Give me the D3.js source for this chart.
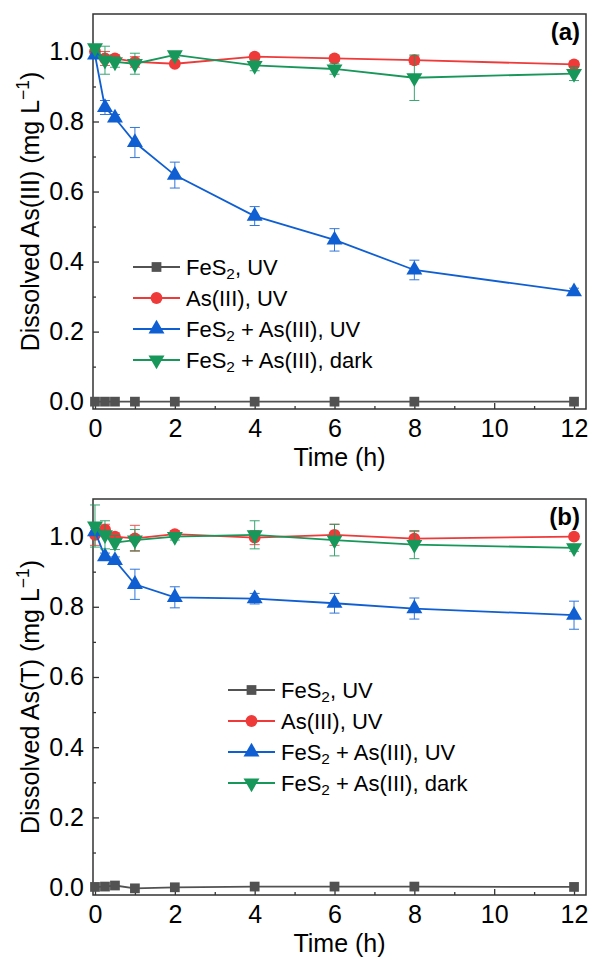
<!DOCTYPE html>
<html>
<head>
<meta charset="utf-8">
<script src="https://cdn.jsdelivr.net/npm/d3@7"></script>
<style>
body { margin: 0; background: #fff; }
text { font-family: "Liberation Sans", Arial, sans-serif; }
</style>
</head>
<body>
<div id="chart"></div>
<script>
// sampling times (h)
var times = [0, 0.25, 0.5, 1, 2, 4, 6, 8, 12];
var xTicks = [0, 2, 4, 6, 8, 10, 12];
var yTicks = [0, 0.2, 0.4, 0.6, 0.8, 1.0];

// panel (a) dissolved As(III)
var aFeS2 = [0, 0, 0, 0, 0, 0, 0, 0, 0];
var aFeS2Err = [0, 0, 0, 0, 0, 0, 0, 0, 0];
var aAs3 = [1.0, 0.98, 0.98, 0.97, 0.965, 0.985, 0.98, 0.975, 0.963];
var aAs3Err = [0.01, 0.02, 0.01, 0.015, 0.008, 0.008, 0.008, 0.012, 0.008];
var aMixUV = [0.99, 0.84, 0.81, 0.74, 0.647, 0.53, 0.462, 0.376, 0.314];
var aMixUVErr = [0.01, 0.02, 0.01, 0.043, 0.037, 0.027, 0.032, 0.028, 0.01];
var aMixDark = [1.01, 0.975, 0.97, 0.965, 0.99, 0.96, 0.95, 0.925, 0.937];
var aMixDarkErr = [0.01, 0.04, 0.015, 0.03, 0.008, 0.015, 0.015, 0.065, 0.02];

// panel (b) dissolved As(T)
var bFeS2 = [0.002, 0.003, 0.006, -0.002, 0.001, 0.003, 0.003, 0.003, 0.002];
var bFeS2Err = [0, 0, 0, 0, 0, 0, 0, 0, 0];
var bAs3 = [1.005, 1.02, 1.0, 0.995, 1.007, 0.997, 1.005, 0.994, 1.0];
var bAs3Err = [0.03, 0.015, 0.01, 0.037, 0.01, 0.02, 0.03, 0.02, 0.008];
var bMixUV = [1.014, 0.943, 0.932, 0.864, 0.827, 0.823, 0.81, 0.795, 0.776];
var bMixUVErr = [0.01, 0.01, 0.01, 0.043, 0.03, 0.015, 0.028, 0.03, 0.04];
var bMixDark = [1.03, 1.005, 0.983, 0.99, 1.0, 1.005, 0.99, 0.977, 0.968];
var bMixDarkErr = [0.06, 0.04, 0.02, 0.03, 0.01, 0.04, 0.045, 0.04, 0.01];

var seriesNames = ["FeS|2|, UV", "As(III), UV", "FeS|2| + As(III), UV", "FeS|2| + As(III), dark"];
var colors = ["#525252", "#ef3a3a", "#0f5fd3", "#17975a"];
var symbols = [d3.symbolSquare, d3.symbolCircle, d3.symbolTriangle, d3.symbolTriangle];

var W = 590, H = 958;
var svg = d3.select("#chart").append("svg")
    .attr("width", W)
    .attr("height", H);

function subText(sel, str) {
    // "FeS|2|, UV" -> FeS with subscript 2
    var parts = str.split("|");
    parts.forEach(function(p, i) {
        var t = sel.append("tspan").text(p);
        if (i % 2 === 1) {
            t.attr("baseline-shift", "-25%").style("font-size", "70%");
        }
    });
}

function drawPanel(params) {
    var left = 93, right = 586;
    var top = params.top, bottom = params.bottom;

    var x = d3.scaleLinear().domain([-0.05, 12.3]).range([left, right]);
    var y = d3.scaleLinear().domain([-0.021, 1.107]).range([bottom, top]);

    var g = svg.append("g");

    // axes with inward ticks
    var xAxis = d3.axisBottom(x).tickValues(xTicks).tickSize(-6).tickPadding(10)
        .tickFormat(d3.format("d"));
    var xMinor = d3.axisBottom(x).tickValues(d3.range(1, 12, 2)).tickSize(-3).tickFormat("");
    var yAxis = d3.axisLeft(y).tickValues(yTicks).tickSize(-6).tickPadding(9)
        .tickFormat(d3.format(".1f"));
    var yMinor = d3.axisLeft(y).tickValues([0.1, 0.3, 0.5, 0.7, 0.9]).tickSize(-3).tickFormat("");

    [xAxis, xMinor].forEach(function(ax) {
        g.append("g").attr("transform", "translate(0," + bottom + ")").call(ax);
    });
    [yAxis, yMinor].forEach(function(ax) {
        g.append("g").attr("transform", "translate(" + left + ",0)").call(ax);
    });
    g.selectAll(".domain").remove();
    g.selectAll(".tick line").attr("stroke", "#333").attr("stroke-width", 1.3);
    g.selectAll(".tick text").style("font-size", "25px").attr("fill", "#000");

    g.append("rect")
        .attr("x", left).attr("y", top)
        .attr("width", right - left).attr("height", bottom - top)
        .attr("fill", "none").attr("stroke", "#333").attr("stroke-width", 1.5);

    // series
    var line = d3.line()
        .x(function(d) { return x(d.t); })
        .y(function(d) { return y(d.v); });

    params.series.forEach(function(s, k) {
        var data = times.map(function(t, i) { return {t: t, v: s.v[i], e: s.e[i]}; });
        var sg = g.append("g");
        var eb = sg.selectAll(".err").data(data.filter(function(d) { return d.e > 0; }))
            .enter().append("g").attr("stroke", colors[k]).attr("stroke-width", 1).attr("opacity", 0.85);
        eb.append("line")
            .attr("x1", function(d) { return x(d.t); }).attr("x2", function(d) { return x(d.t); })
            .attr("y1", function(d) { return y(d.v - d.e); }).attr("y2", function(d) { return y(d.v + d.e); });
        eb.append("line")
            .attr("x1", function(d) { return x(d.t) - 5; }).attr("x2", function(d) { return x(d.t) + 5; })
            .attr("y1", function(d) { return y(d.v + d.e); }).attr("y2", function(d) { return y(d.v + d.e); });
        eb.append("line")
            .attr("x1", function(d) { return x(d.t) - 5; }).attr("x2", function(d) { return x(d.t) + 5; })
            .attr("y1", function(d) { return y(d.v - d.e); }).attr("y2", function(d) { return y(d.v - d.e); });

        sg.append("path").datum(data)
            .attr("d", line).attr("fill", "none")
            .attr("stroke", colors[k]).attr("stroke-width", 1.8);

        var sym = d3.symbol().type(symbols[k]).size(k === 0 ? 95 : 110);
        sg.selectAll(".pt").data(data).enter().append("path")
            .attr("d", sym)
            .attr("fill", colors[k])
            .attr("transform", function(d) {
                return "translate(" + x(d.t) + "," + y(d.v) + ")" + (k === 3 ? " rotate(180)" : "");
            });
    });

    // legend
    var lg = g.append("g");
    params.legendY.forEach(function(ly, k) {
        var lx = params.legendX;
        lg.append("line").attr("x1", lx).attr("x2", lx + 47)
            .attr("y1", ly).attr("y2", ly)
            .attr("stroke", colors[k]).attr("stroke-width", 1.8);
        lg.append("path")
            .attr("d", d3.symbol().type(symbols[k]).size(k === 0 ? 95 : 110))
            .attr("fill", colors[k])
            .attr("transform", "translate(" + (lx + 23.5) + "," + ly + ")" + (k === 3 ? " rotate(180)" : ""));
        var tx = lg.append("text").attr("x", lx + 53).attr("y", ly + 8)
            .style("font-size", "22px").attr("fill", "#000");
        subText(tx, seriesNames[k]);
    });

    // axis titles
    g.append("text")
        .attr("x", (left + right) / 2).attr("y", bottom + 57)
        .attr("text-anchor", "middle").style("font-size", "25px")
        .text("Time (h)");

    var yl = g.append("text")
        .attr("transform", "translate(39," + ((top + bottom) / 2) + ") rotate(-90)")
        .attr("text-anchor", "middle").style("font-size", "25px");
    yl.append("tspan").text(params.yLabel + " (mg L");
    yl.append("tspan").text("\u22121").attr("baseline-shift", "super").style("font-size", "70%");
    yl.append("tspan").text(")");

    g.append("text")
        .attr("x", right - 6).attr("y", top + 26)
        .attr("text-anchor", "end").style("font-size", "24px").style("font-weight", "bold")
        .text(params.tag);
}

drawPanel({
    top: 14, bottom: 409, tag: "(a)", yLabel: "Dissolved As(III)",
    legendX: 133, legendY: [267, 298, 329, 360],
    series: [
        {v: aFeS2, e: aFeS2Err}, {v: aAs3, e: aAs3Err},
        {v: aMixUV, e: aMixUVErr}, {v: aMixDark, e: aMixDarkErr}
    ]
});

drawPanel({
    top: 499, bottom: 895, tag: "(b)", yLabel: "Dissolved As(T)",
    legendX: 228, legendY: [690, 721, 752, 783],
    series: [
        {v: bFeS2, e: bFeS2Err}, {v: bAs3, e: bAs3Err},
        {v: bMixUV, e: bMixUVErr}, {v: bMixDark, e: bMixDarkErr}
    ]
});
</script>
</body>
</html>
